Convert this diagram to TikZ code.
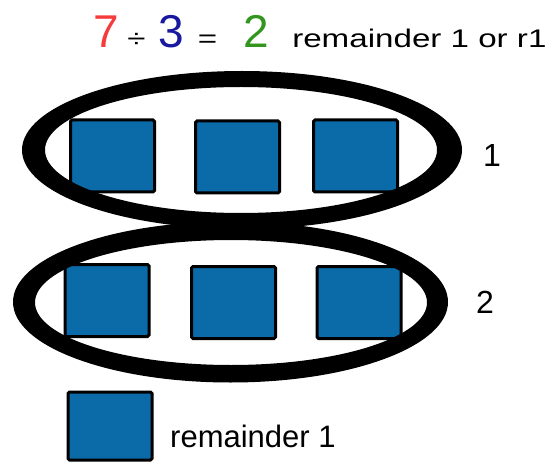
\documentclass[tikz,border=0pt]{standalone}
\usepackage{fontspec}
\setmainfont{Liberation Sans}
\definecolor{tileblue}{RGB}{11,106,168}
\definecolor{numred}{RGB}{245,60,60}
\definecolor{numblue}{RGB}{25,25,160}
\definecolor{numgreen}{RGB}{50,150,30}
\begin{document}
\begin{tikzpicture}[x=1pt,y=-1pt,
  tile/.style={draw=black,fill=tileblue,line width=3pt,rounded corners=1.5pt,
    minimum width=84pt,minimum height=72pt,inner sep=0pt},
  bignum/.style={font=\fontsize{46}{46}\selectfont,inner sep=0pt,anchor=base},
  wide/.style={font=\fontsize{25.5}{25.5}\selectfont,inner sep=0pt,xscale=1.3,transform shape},
  label/.style={font=\fontsize{32}{32}\selectfont,inner sep=0pt,anchor=base}]
\useasboundingbox (0,0) rectangle (545,462);

% Equation
\node[bignum,text=numred] (seven) at (106,48) {7};
\node[wide,anchor=base] (div) at (136.5,48) {÷};
\node[bignum,text=numblue] (three) at (171,48) {3};
\node[wide,anchor=base] (eq) at (207.5,48) {=};
\node[bignum,text=numgreen] (two) at (256,48) {2};
\node[wide,anchor=base west] (rem) at (292,48) {remainder 1 or r1};

% First group
\node[tile] (a1) at (112.5,156) {};
\node[tile] (a2) at (237.5,157) {};
\node[tile] (a3) at (355.5,156) {};

% Second group
\node[tile] (b1) at (107,300.5) {};
\node[tile] (b2) at (233.5,302.5) {};
\node[tile] (b3) at (359,302.5) {};

% Rings round the groups
\fill[black,even odd rule] (242,150) ellipse [x radius=220,y radius=79]
  (241,150) ellipse [x radius=196,y radius=63];
\fill[black,even odd rule] (230.5,302) ellipse [x radius=217.5,y radius=80.5]
  (231,302.5) ellipse [x radius=196,y radius=62.5];

% Group numbers
\node[label] (n1) at (492,167) {1};
\node[label] (n2) at (485,313) {2};

% Left over
\node[tile,minimum height=68pt] (r1) at (110,426) {};
\node[label,font=\fontsize{31}{31}\selectfont,anchor=base west] (left) at (170,447) {remainder 1};
\end{tikzpicture}
\end{document}
